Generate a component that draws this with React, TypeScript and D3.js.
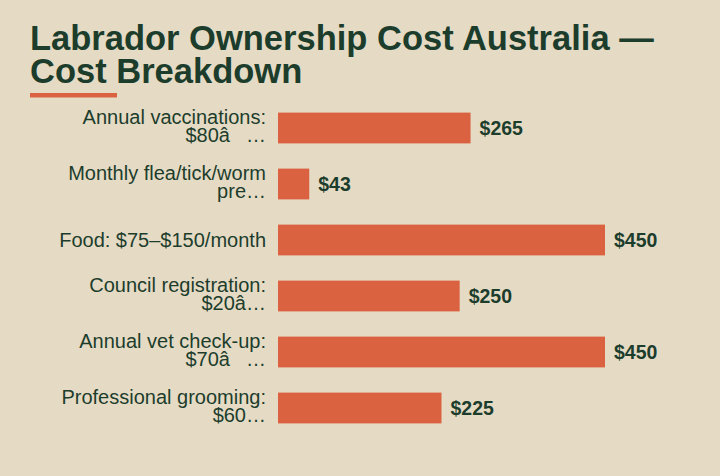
import React, { useEffect, useRef } from 'react';
import * as d3 from 'd3';

// chart data
const titleLines = ['Labrador Ownership Cost Australia —', 'Cost Breakdown'];
const categories = [
  ['Annual vaccinations:', '$80â\u0080…'],
  ['Monthly flea/tick/worm', 'pre…'],
  ['Food: $75–$150/month'],
  ['Council registration:', '$20â…'],
  ['Annual vet check-up:', '$70â\u0080…'],
  ['Professional grooming:', '$60…'],
];
const costs = [265, 43, 450, 250, 450, 225];

const W = 720;
const H = 476;
const BG = '#e5dbc5';
const INK = '#1d3d2c';
const BAR = '#db6240';
const FONT = '"Liberation Sans", Arial, sans-serif';

const App: React.FC = () => {
  const svgRef = useRef<SVGSVGElement>(null);

  useEffect(() => {
    if (!svgRef.current) return;
    const svg = d3.select(svgRef.current);
    svg.selectAll('*').remove();

    svg.append('rect').attr('width', W).attr('height', H).attr('fill', BG);

    // Title, two lines
    const title = svg.append('text')
      .attr('x', 30)
      .attr('y', 50)
      .attr('fill', INK)
      .attr('font-family', FONT)
      .attr('font-size', 34.5)
      .attr('font-weight', 'bold');
    titleLines.forEach((t, i) => {
      title.append('tspan').attr('x', 30).attr('dy', i === 0 ? 0 : 33).text(t);
    });

    // accent underline
    svg.append('rect')
      .attr('x', 30).attr('y', 93)
      .attr('width', 87).attr('height', 4.5)
      .attr('fill', BAR);

    const idx = d3.range(categories.length);
    const y = d3.scaleBand<number>()
      .domain(idx)
      .range([100, 436])
      .paddingInner(0.45)
      .paddingOuter(0.225);
    const x = d3.scaleLinear().domain([0, 450]).range([278, 605]);

    const g = svg.append('g');

    g.selectAll('rect.bar')
      .data(idx)
      .enter()
      .append('rect')
      .attr('class', 'bar')
      .attr('x', x(0))
      .attr('y', i => y(i)!)
      .attr('width', i => x(costs[i]) - x(0))
      .attr('height', y.bandwidth())
      .attr('fill', BAR);

    g.selectAll('text.val')
      .data(idx)
      .enter()
      .append('text')
      .attr('class', 'val')
      .attr('x', i => x(costs[i]) + 9)
      .attr('y', i => y(i)! + y.bandwidth() / 2 + 6.5)
      .attr('fill', INK)
      .attr('font-family', FONT)
      .attr('font-size', 19.5)
      .attr('font-weight', 'bold')
      .text(i => `$${costs[i]}`);

    const labels = g.selectAll('text.cat')
      .data(idx)
      .enter()
      .append('text')
      .attr('class', 'cat')
      .attr('text-anchor', 'end')
      .attr('fill', INK)
      .attr('font-family', FONT)
      .attr('font-size', 20);

    labels.each(function (i) {
      const lines = categories[i];
      const cy = y(i)! + y.bandwidth() / 2;
      const el = d3.select(this);
      if (lines.length === 1) {
        el.append('tspan').attr('x', 266).attr('y', cy + 6.5).text(lines[0]);
      } else {
        lines.forEach((l, k) => {
          el.append('tspan').attr('x', 266).attr('y', cy - 4 + k * 17.7).text(l);
        });
      }
    });
  }, []);

  return (
    <svg
      ref={svgRef}
      width={W}
      height={H}
      style={{ position: 'absolute', top: 0, left: 0, display: 'block' }}
    />
  );
};

export default App;
